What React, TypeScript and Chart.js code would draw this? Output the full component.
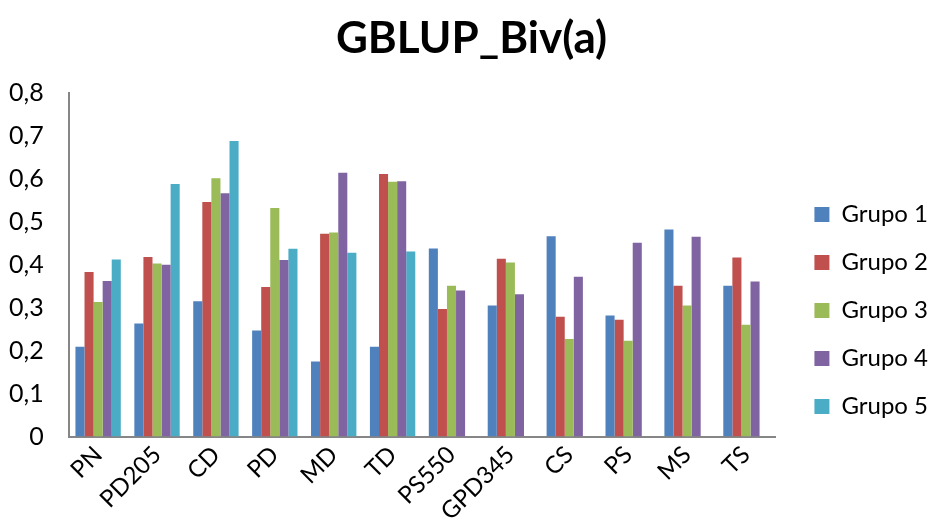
import React, { useEffect, useRef } from "react";
import { Chart, registerables } from "chart.js";

Chart.register(...registerables);

const categories = ["PN", "PD205", "CD", "PD", "MD", "TD", "PS550", "GPD345", "CS", "PS", "MS", "TS"];
const grupo1 = [0.209, 0.263, 0.315, 0.247, 0.175, 0.209, 0.438, 0.305, 0.466, 0.282, 0.482, 0.351];
const grupo2 = [0.383, 0.418, 0.546, 0.348, 0.472, 0.611, 0.297, 0.414, 0.279, 0.272, 0.351, 0.417];
const grupo3 = [0.313, 0.403, 0.601, 0.532, 0.475, 0.593, 0.351, 0.405, 0.227, 0.223, 0.305, 0.260];
const grupo4 = [0.362, 0.400, 0.566, 0.411, 0.614, 0.594, 0.340, 0.331, 0.372, 0.451, 0.465, 0.361];
const grupo5 = [0.412, 0.588, 0.688, 0.437, 0.428, 0.431, null, null, null, null, null, null];
const seriesNames = ["Grupo 1", "Grupo 2", "Grupo 3", "Grupo 4", "Grupo 5"];
const colors = ["#4F81BD", "#C0504D", "#9BBB59", "#8064A2", "#4BACC6"];

const shiftPlugin = {
  id: "shiftBlocks",
  afterLayout(chart: any) {
    const t = chart.titleBlock;
    if (t) {
      t.left += 18;
      t.right += 18;
    }
    const l = chart.legend;
    if (l) {
      l.left += 15;
      l.right += 15;
    }
  },
};

export default function App() {
  const ref = useRef<HTMLCanvasElement>(null);
  useEffect(() => {
    document.body.style.margin = "0";
    const data = [grupo1, grupo2, grupo3, grupo4, grupo5];
    const chart = new Chart(ref.current!, {
      type: "bar",
      data: {
        labels: categories,
        datasets: data.map((d, i) => ({
          label: seriesNames[i],
          data: d,
          backgroundColor: colors[i],
          borderWidth: 0,
          barPercentage: 1,
          categoryPercentage: 0.77,
        })),
      },
      options: {
        animation: false,
        responsive: false,
        maintainAspectRatio: false,
        layout: { padding: { left: -16, right: 8, top: 4, bottom: 0 } },
        plugins: {
          title: {
            display: true,
            text: "GBLUP_Biv(a)",
            color: "#000",
            font: { family: "Lato", size: 44, weight: "bold" },
            padding: { top: 8, bottom: 28 },
          },
          legend: {
            position: "right",
            title: {
              display: true,
              text: " ",
              font: { size: 1 },
              padding: { top: 0, bottom: 86 },
            },
            labels: {
              color: "#000",
              font: { family: "Lato", size: 24 },
              boxWidth: 15,
              boxHeight: 15,
              padding: 24,
            },
          },
          tooltip: { enabled: false },
        },
        scales: {
          x: {
            grid: { display: false, drawTicks: false },
            border: { display: true, color: "#868686", width: 2 },
            ticks: {
              color: "#000",
              font: { family: "Lato", size: 24 },
              maxRotation: 45,
              minRotation: 45,
              autoSkip: false,
              padding: 4,
            },
          },
          y: {
            min: 0,
            max: 0.8,
            grid: { display: false, drawTicks: false },
            border: { display: true, color: "#868686", width: 2 },
            ticks: {
              stepSize: 0.1,
              color: "#000",
              font: { family: "Lato", size: 25 },
              padding: 25,
              callback: (v: any) => (Number(v) === 0 ? "0" : Number(v).toFixed(1).replace(".", ",")),
            },
          },
        },
      },
      plugins: [shiftPlugin],
    });
    return () => chart.destroy();
  }, []);
  return (
    <div style={{ width: 931, height: 530 }}>
      <canvas ref={ref} width={931} height={530} style={{ width: 931, height: 530, display: "block" }} />
    </div>
  );
}
